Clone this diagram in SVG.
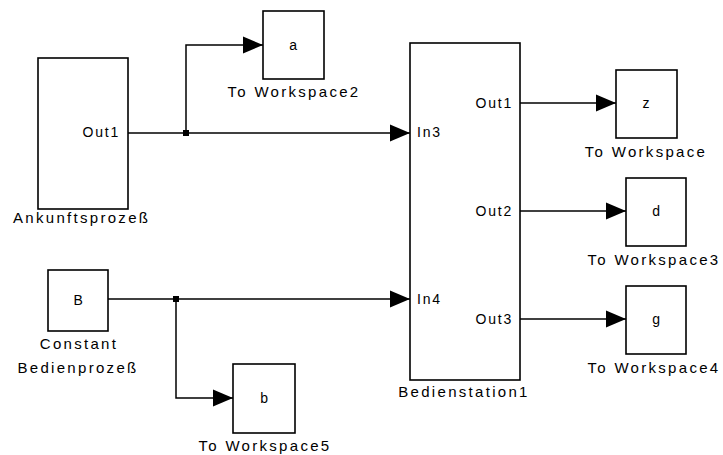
<svg xmlns="http://www.w3.org/2000/svg" width="723" height="455" viewBox="0 0 723 455">
<style>
.blk{fill:#fff;stroke:#000;stroke-width:1.6}
.t{font-family:"Liberation Sans",Arial,sans-serif;font-size:15px;letter-spacing:2.3px;fill:#000}
.p{font-family:"Liberation Sans",Arial,sans-serif;font-size:14px;letter-spacing:1.8px;fill:#000}
.c{stroke:#000;stroke-width:1.5;fill:none}
.m{text-anchor:middle}
.e{text-anchor:end}
</style>
<defs>
<marker id="ah" markerUnits="userSpaceOnUse" markerWidth="20" markerHeight="18" refX="20" refY="9" orient="auto">
<path d="M0,0.5 L20,9 L0,17.5 z" fill="#000"/>
</marker>
</defs>
<g id="connectors">
<path class="c" d="M128,133 H410" marker-end="url(#ah)"/>
<path class="c" d="M186,133 V45 H263" marker-end="url(#ah)"/>
<path class="c" d="M108,299 H410" marker-end="url(#ah)"/>
<path class="c" d="M176,299 V398 H233" marker-end="url(#ah)"/>
<path class="c" d="M520,103 H616" marker-end="url(#ah)"/>
<path class="c" d="M520,211 H626" marker-end="url(#ah)"/>
<path class="c" d="M520,319 H626" marker-end="url(#ah)"/>
<rect x="183" y="130" width="6" height="6" fill="#000"/>
<rect x="173" y="296" width="6" height="6" fill="#000"/>
</g>
<g id="Ankunftsprozess">
<rect class="blk" x="38" y="58" width="90" height="151"/>
<text class="p e" x="120" y="137">Out1</text>
<text class="t" x="13" y="223">Ankunftsprozeß</text>
</g>
<g id="ToWorkspace2">
<rect class="blk" x="263" y="11" width="61" height="68"/>
<text class="p m" x="294" y="50">a</text>
<text class="t m" x="294" y="97">To Workspace2</text>
</g>
<g id="Constant">
<rect class="blk" x="48" y="270" width="60" height="61"/>
<text class="p m" x="79" y="305">B</text>
<text class="t m" x="79" y="349">Constant</text>
<text class="t m" x="78" y="373">Bedienprozeß</text>
</g>
<g id="ToWorkspace5">
<rect class="blk" x="233" y="364" width="62" height="69"/>
<text class="p m" x="265" y="403">b</text>
<text class="t m" x="265" y="451">To Workspace5</text>
</g>
<g id="Bedienstation1">
<rect class="blk" x="410" y="43" width="110" height="337"/>
<text class="p" x="417" y="137">In3</text>
<text class="p" x="417" y="304">In4</text>
<text class="p e" x="513" y="108">Out1</text>
<text class="p e" x="513" y="216">Out2</text>
<text class="p e" x="513" y="324">Out3</text>
<text class="t m" x="464" y="397">Bedienstation1</text>
</g>
<g id="ToWorkspace">
<rect class="blk" x="616" y="70" width="61" height="68"/>
<text class="p m" x="647" y="108">z</text>
<text class="t m" x="646" y="157">To Workspace</text>
</g>
<g id="ToWorkspace3">
<rect class="blk" x="626" y="178" width="60" height="68"/>
<text class="p m" x="657" y="216">d</text>
<text class="t m" x="654" y="265">To Workspace3</text>
</g>
<g id="ToWorkspace4">
<rect class="blk" x="626" y="286" width="60" height="68"/>
<text class="p m" x="657" y="324">g</text>
<text class="t m" x="654" y="373">To Workspace4</text>
</g>
</svg>
